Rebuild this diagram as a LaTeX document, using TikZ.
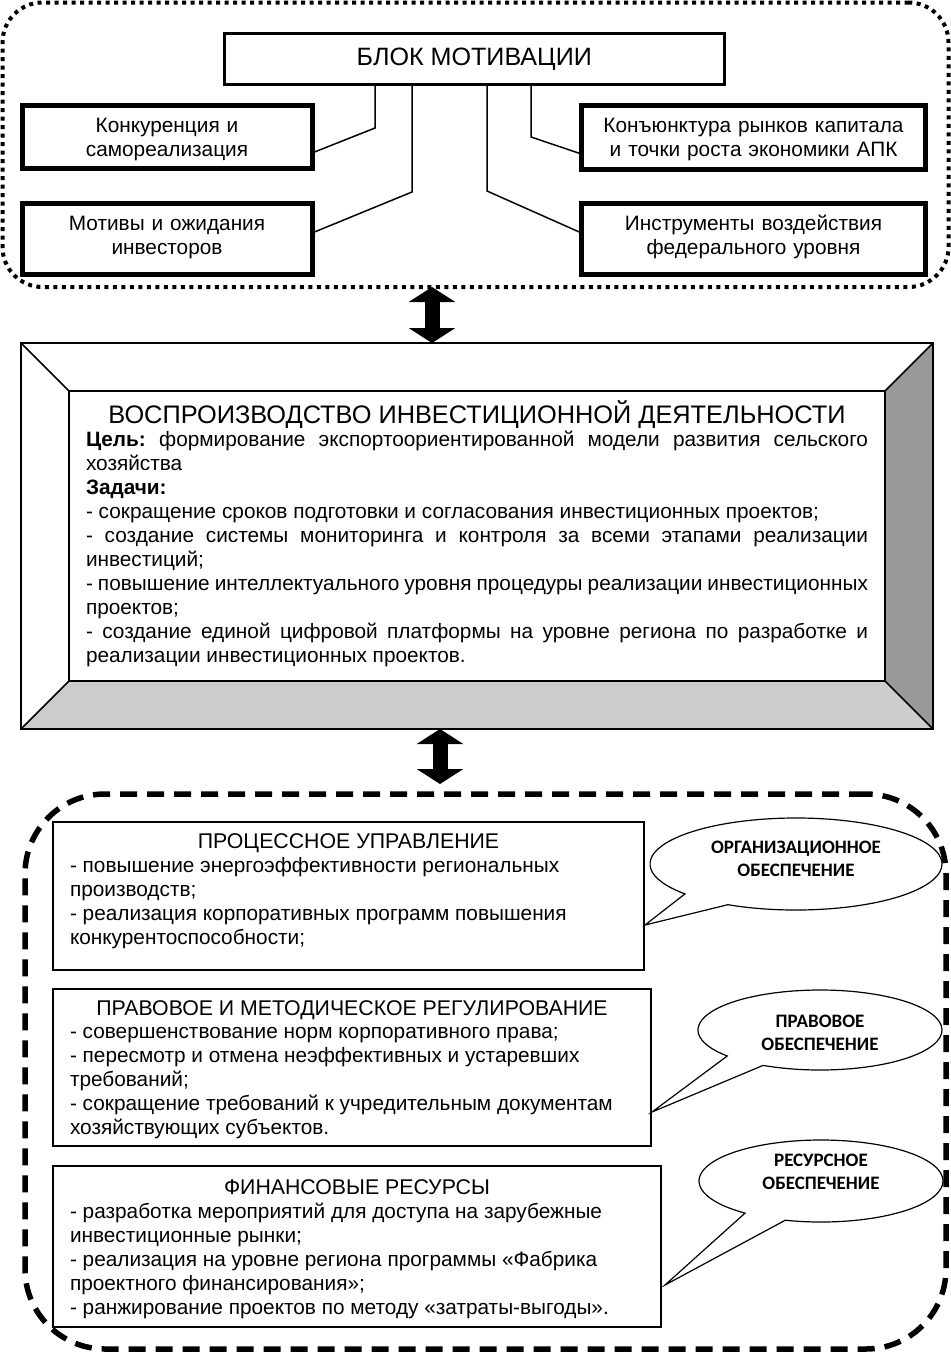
\documentclass[tikz,border=0pt]{standalone}
\usepackage{fontspec}
\setmainfont{Liberation Sans}
\newfontfamily\calfont{Carlito}
\usetikzlibrary{arrows.meta}
\newcommand\wsp{\spaceskip=0.278em plus 0.3em minus 0.1em\relax\xspaceskip=\spaceskip}
\newcommand\jl[1]{\makebox[782pt][s]{\wsp #1}}
\begin{document}
\begin{tikzpicture}[x=1pt,y=-1pt,
  every node/.style={inner sep=0pt, outer sep=0pt},
  dotframe/.style={draw, line width=4pt, dash pattern=on 4pt off 4.5pt, rounded corners=40pt},
  dashframe/.style={draw, line width=5.5pt, dash pattern=on 17pt off 10pt, rounded corners=80pt},
  blokbox/.style={draw, line width=3pt, minimum width=500.5pt, minimum height=51.5pt, font=\fontsize{25.1}{28}\selectfont},
  topbox/.style={draw, line width=5pt},
  toptext/.style={font=\fontsize{20.8}{24.2}\selectfont, anchor=base},
  conn/.style={line width=1.5pt},
  dblarr/.style={line width=15pt, {Triangle[width=46pt,length=15pt]}-{Triangle[width=46pt,length=15pt]}},
  lowbox/.style={draw, line width=1.5pt},
  body/.style={font=\fontsize{20.8}{24.2}\selectfont, anchor=base west},
  head/.style={font=\fontsize{21.3}{24}\selectfont, anchor=base},
  callout/.style={draw, line width=1.2pt, fill=white},
  caltext/.style={font=\calfont\bfseries\fontsize{19}{23}\selectfont, anchor=base, text width=220pt},
]
\useasboundingbox (0,0) rectangle (951,1353);
\fill[white] (0,0) rectangle (951,1353);

% ---------- motivation block ----------
\node[dotframe, minimum width=946pt, minimum height=284.5pt] (motframe) at (475.5,144.75) {};
\node[blokbox] (blok) at (474.25,58.75) {БЛОК МОТИВАЦИИ};
\node[topbox, minimum width=290pt, minimum height=62.5pt] (konk) at (167,136.75) {};
\node[topbox, minimum width=290pt, minimum height=70.5pt] (motiv) at (167,238.75) {};
\node[topbox, minimum width=344pt, minimum height=63.5pt] (konj) at (753.5,137.25) {};
\node[topbox, minimum width=344pt, minimum height=70.5pt] (instr) at (753.5,238.75) {};
\node[toptext, text width=285pt] (konkt) at (167,132) {\centering Конкуренция и\\самореализация\par};
\node[toptext, text width=285pt] (motivt) at (167,230.5) {\centering Мотивы и ожидания\\инвесторов\par};
\node[toptext, text width=340pt] (konjt) at (753.5,132) {\centering Конъюнктура рынков капитала\\и точки роста экономики АПК\par};
\node[toptext, text width=340pt] (instrt) at (753.5,230.5) {\centering Инструменты воздействия\\федерального уровня\par};

\coordinate (c1) at (375,128);
\coordinate (c2) at (412,192);
\coordinate (c3) at (531,137);
\coordinate (c4) at (487,191);
\draw[conn] (blok.south -| c1) -- (c1) -- ([yshift=-16.25pt]konk.east);
\draw[conn] (blok.south -| c2) -- (c2) -- ([yshift=5.75pt]motiv.east);
\draw[conn] (blok.south -| c3) -- (c3) -- ([yshift=-16.75pt]konj.west);
\draw[conn] (blok.south -| c4) -- (c4) -- ([yshift=5.75pt]instr.west);

% ---------- reproduction block (bevel) ----------
\node[minimum width=912pt, minimum height=386pt] (rep) at (477,536) {};
\node[minimum width=816pt, minimum height=290pt] (repin) at (477,536) {};
\fill[black!40] (repin.north east) -- (rep.north east) -- (rep.south east) -- (repin.south east) -- cycle;
\fill[black!20] (repin.south west) -- (repin.south east) -- (rep.south east) -- (rep.south west) -- cycle;
\draw[line width=1.8pt] (rep.north west) rectangle (rep.south east);
\draw[line width=1.8pt] (repin.north west) rectangle (repin.south east);
\draw[line width=1.5pt] (rep.north west) -- (repin.north west);
\draw[line width=1.5pt] (rep.north east) -- (repin.north east);
\draw[line width=1.5pt] (rep.south west) -- (repin.south west);
\draw[line width=1.5pt] (rep.south east) -- (repin.south east);

\node[font=\fontsize{25.35}{30}\selectfont, anchor=base] (reptitle) at (477,423) {ВОСПРОИЗВОДСТВО ИНВЕСТИЦИОННОЙ ДЕЯТЕЛЬНОСТИ};
\node[body, text width=782pt, font=\fontsize{20.8}{24.1}\selectfont] (reptext) at (86,446) {\raggedright\wsp
\jl{\textbf{Цель:} формирование экспортоориентированной модели развития сельского}\\
хозяйства\\
\textbf{Задачи:}\\
- сокращение сроков подготовки и согласования инвестиционных проектов;\\
\jl{- создание системы мониторинга и контроля за всеми этапами реализации}\\
инвестиций;\\
\jl{- повышение интеллектуального уровня процедуры реализации инвестиционных}\\
проектов;\\
\jl{- создание единой цифровой платформы на уровне региона по разработке и}\\
реализации инвестиционных проектов.\par};

% ---------- resources block ----------
\node[dashframe, minimum width=921pt, minimum height=555pt] (resframe) at (485.5,1071.5) {};

\coordinate (ax1) at (432,0);
\coordinate (ax2) at (440,0);
\draw[dblarr] (motframe.south -| ax1) -- (rep.north -| ax1);
\draw[dblarr, shorten >=10pt] (rep.south -| ax2) -- (resframe.north -| ax2);

\node[lowbox, minimum width=591pt, minimum height=148pt] (box1) at (348.5,896) {};
\node[lowbox, minimum width=598pt, minimum height=157pt] (box2) at (352,1067.5) {};
\node[lowbox, minimum width=608pt, minimum height=161pt] (box3) at (357,1246.5) {};

\node[head] (h1) at (348.5,848) {ПРОЦЕССНОЕ УПРАВЛЕНИЕ};
\node[body, text width=570pt] (t1) at (70,872) {\raggedright\wsp - повышение энергоэффективности региональных\\
производств;\\
- реализация корпоративных программ повышения\\
конкурентоспособности;\par};

\node[head] (h2) at (352,1015) {ПРАВОВОЕ И МЕТОДИЧЕСКОЕ РЕГУЛИРОВАНИЕ};
\node[body, text width=575pt] (t2) at (70,1038) {\raggedright\wsp - совершенствование норм корпоративного права;\\
- пересмотр и отмена неэффективных и устаревших\\
требований;\\
- сокращение требований к учредительным документам\\
хозяйствующих субъектов.\par};

\node[head] (h3) at (357,1194) {ФИНАНСОВЫЕ РЕСУРСЫ};
\node[body, text width=585pt] (t3) at (70,1218) {\raggedright\wsp - разработка мероприятий для доступа на зарубежные\\
инвестиционные рынки;\\
- реализация на уровне региона программы «Фабрика\\
проектного финансирования»;\\
- ранжирование проектов по методу «затраты-выгоды».\par};

% ---------- callouts ----------
\coordinate (tip1) at (645,925);
\coordinate (tip2) at (652,1112);
\coordinate (tip3) at (665,1285);
\draw[callout] (796,864) ++(117.8:146 and 46) arc[start angle=117.8, end angle=-220.5, x radius=146, y radius=46] -- (tip1) -- cycle;
\draw[callout] (820,1030) ++(117.8:122 and 40) arc[start angle=117.8, end angle=-220.5, x radius=122, y radius=40] -- (tip2) -- cycle;
\draw[callout] (821,1181) ++(107:122 and 41) arc[start angle=107, end angle=-231.5, x radius=122, y radius=41] -- (tip3) -- cycle;

\node[caltext] (k1) at (796,853) {\centering ОРГАНИЗАЦИОННОЕ\\ОБЕСПЕЧЕНИЕ\par};
\node[caltext] (k2) at (820,1027) {\centering ПРАВОВОЕ\\ОБЕСПЕЧЕНИЕ\par};
\node[caltext] (k3) at (821,1166) {\centering РЕСУРСНОЕ\\ОБЕСПЕЧЕНИЕ\par};
\end{tikzpicture}
\end{document}
